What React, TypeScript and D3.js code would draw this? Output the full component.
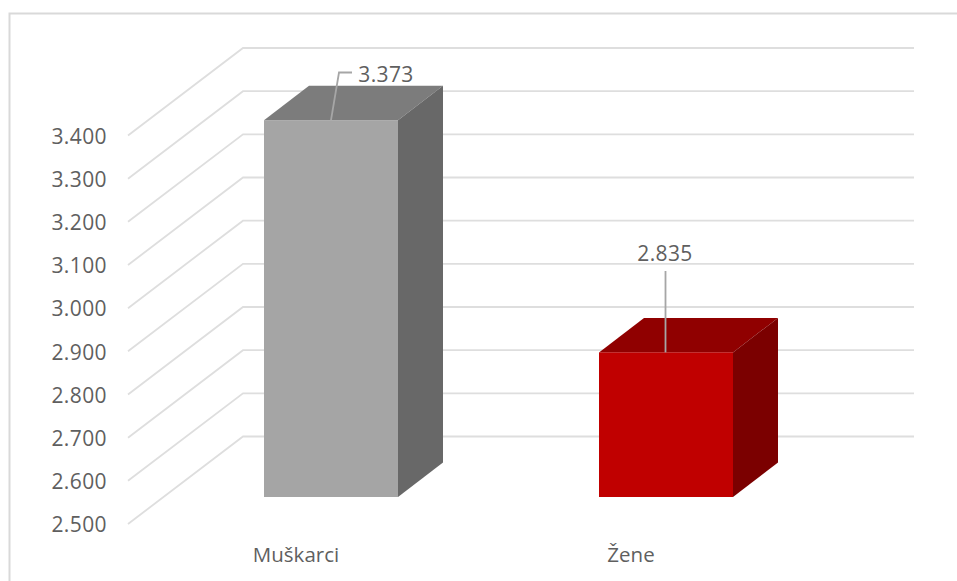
import { useEffect, useRef } from 'react'
import * as d3 from 'd3'

const categories = ['Muškarci', 'Žene']
const values = [3373, 2835]
const valueLabels = ['3.373', '2.835']
const ticks = [2500, 2600, 2700, 2800, 2900, 3000, 3100, 3200, 3300, 3400]
const tickLabels = ['2.500', '2.600', '2.700', '2.800', '2.900', '3.000', '3.100', '3.200', '3.300', '3.400']
const faceColors = ['#a5a5a5', '#c00000']
const topColors = ['#7c7c7c', '#900000']
const sideColors = ['#686868', '#7b0000']

export default function App() {
  const ref = useRef<SVGSVGElement>(null)

  useEffect(() => {
    const svg = d3.select(ref.current)
    svg.selectAll('*').remove()
    const width = 957
    const height = 581
    const font = 'Open Sans, "Noto Sans", sans-serif'
    const textColor = '#5f5f5f'

    // back wall scale, the front of the floor is offset from it
    const y = d3.scaleLinear().domain([2500, 3400]).range([436.5, 48])
    const depthX = 115
    const depthY = 87.5
    const wallLeft = 243
    const wallRight = 914

    // bars sit part way into the floor
    const barDrop = 60.5
    const barDepthX = 45
    const barDepthY = 34.5
    const frontY = (v: number) => y(v) + barDrop
    const x = d3.scaleBand().domain(categories).range([264, 733]).paddingInner(0.6).paddingOuter(0)

    // chart frame
    svg.append('path')
      .attr('d', `M${width},13.5 H9.5 V${height}`)
      .attr('fill', 'none')
      .attr('stroke', '#d9d9d9')
      .attr('stroke-width', 2)

    // gridlines
    svg.append('g')
      .selectAll('path')
      .data(ticks)
      .enter()
      .append('path')
      .attr('d', d => `M${wallLeft - depthX},${y(d) + depthY} L${wallLeft},${y(d)} H${wallRight}`)
      .attr('fill', 'none')
      .attr('stroke', '#dedede')
      .attr('stroke-width', 1.8)

    // axis labels
    svg.selectAll('text.tick')
      .data(ticks)
      .enter()
      .append('text')
      .attr('class', 'tick')
      .attr('x', 107)
      .attr('y', d => y(d) + depthY + 8.3)
      .attr('text-anchor', 'end')
      .attr('font-family', font)
      .attr('font-size', 21)
      .attr('letter-spacing', 0.4)
      .attr('fill', textColor)
      .text((d, i) => tickLabels[i])

    // bars
    categories.forEach((c, i) => {
      const x0 = x(c) as number
      const w = x.bandwidth()
      const top = frontY(values[i])
      const base = frontY(2500)
      const g = svg.append('g')
      g.append('path')
        .attr('d', `M${x0},${top} l${barDepthX},${-barDepthY} h${w} l${-barDepthX},${barDepthY} Z`)
        .attr('fill', topColors[i])
      g.append('path')
        .attr('d', `M${x0 + w},${top} l${barDepthX},${-barDepthY} V${base - barDepthY} l${-barDepthX},${barDepthY} Z`)
        .attr('fill', sideColors[i])
      g.append('rect')
        .attr('x', x0)
        .attr('y', top)
        .attr('width', w)
        .attr('height', base - top)
        .attr('fill', faceColors[i])
    })

    // leader lines
    const mid = (i: number) => (x(categories[i]) as number) + x.bandwidth() / 2
    svg.append('path')
      .attr('d', `M${mid(0)},${frontY(values[0])} L${mid(0) + 8},72.5 H${mid(0) + 21}`)
      .attr('fill', 'none')
      .attr('stroke', '#a6a6a6')
      .attr('stroke-width', 1.8)
    svg.append('path')
      .attr('d', `M${mid(1) - 0.5},${frontY(values[1])} V271`)
      .attr('fill', 'none')
      .attr('stroke', '#a6a6a6')
      .attr('stroke-width', 1.8)

    // value labels
    const labelDx = [55, -1]
    const labelY = [82.3, 260.7]
    valueLabels.forEach((l, i) => {
      svg.append('text')
        .attr('x', mid(i) + labelDx[i])
        .attr('y', labelY[i])
        .attr('text-anchor', 'middle')
        .attr('font-family', font)
        .attr('font-size', 21)
        .attr('letter-spacing', 0.4)
        .attr('fill', textColor)
        .text(l)
    })

    // category labels
    categories.forEach((c, i) => {
      svg.append('text')
        .attr('x', mid(i) - 35)
        .attr('y', 561.5)
        .attr('text-anchor', 'middle')
        .attr('font-family', font)
        .attr('font-size', 20.5)
        .attr('fill', textColor)
        .text(c)
    })
  }, [])

  return <svg ref={ref} width={957} height={581} style={{ position: 'absolute', left: 0, top: 0, background: '#fff' }} />
}
